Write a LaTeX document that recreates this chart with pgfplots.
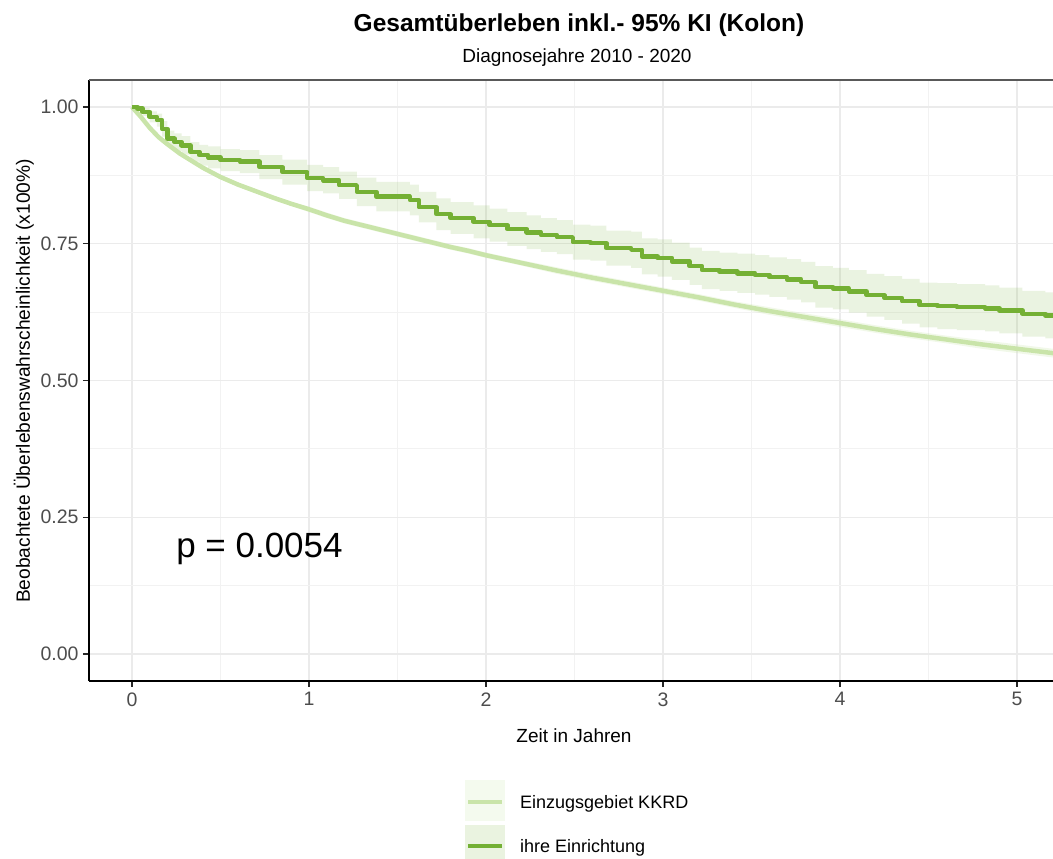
\documentclass[border=0pt]{standalone}
\usepackage{fontspec}
\setmainfont{Liberation Sans}
\usepackage{pgfplots}
\usepackage{pgfplotstable}
\pgfplotsset{compat=1.18}
\usepgfplotslibrary{fillbetween}
\definecolor{darkline}{HTML}{74B034}
\definecolor{lightline}{HTML}{C9E4A9}
\definecolor{darkband}{HTML}{EAF3E0}
\definecolor{lightband}{HTML}{F4FAEE}
\definecolor{ticktext}{HTML}{4D4D4D}

% ihre Einrichtung: x, survival, lower, upper
\pgfplotstableread{
x y lo hi
0 1.000 1.000 1.000
0.03 0.997 0.993 1.000
0.06 0.991 0.984 0.998
0.10 0.982 0.972 0.992
0.14 0.976 0.964 0.988
0.17 0.960 0.946 0.974
0.20 0.942 0.927 0.957
0.24 0.936 0.920 0.952
0.28 0.930 0.913 0.947
0.33 0.918 0.900 0.936
0.38 0.912 0.893 0.931
0.43 0.908 0.888 0.928
0.50 0.903 0.883 0.923
0.61 0.900 0.879 0.921
0.72 0.890 0.868 0.912
0.85 0.881 0.858 0.904
0.99 0.870 0.846 0.894
1.08 0.866 0.842 0.890
1.17 0.857 0.832 0.882
1.27 0.845 0.819 0.871
1.38 0.836 0.809 0.863
1.57 0.830 0.802 0.858
1.62 0.817 0.789 0.845
1.72 0.804 0.775 0.833
1.80 0.797 0.768 0.826
1.93 0.790 0.760 0.820
2.02 0.784 0.754 0.814
2.12 0.777 0.746 0.808
2.23 0.771 0.740 0.802
2.31 0.766 0.735 0.797
2.40 0.762 0.731 0.793
2.49 0.753 0.721 0.785
2.59 0.751 0.719 0.783
2.68 0.742 0.710 0.774
2.82 0.739 0.706 0.772
2.88 0.727 0.694 0.760
2.97 0.724 0.690 0.758
3.05 0.718 0.684 0.752
3.15 0.709 0.675 0.743
3.22 0.702 0.667 0.737
3.32 0.699 0.664 0.734
3.42 0.696 0.660 0.732
3.52 0.693 0.657 0.729
3.60 0.689 0.653 0.725
3.70 0.685 0.648 0.722
3.78 0.680 0.643 0.717
3.86 0.671 0.633 0.709
3.96 0.668 0.630 0.706
4.05 0.663 0.624 0.702
4.15 0.656 0.617 0.695
4.25 0.651 0.611 0.691
4.35 0.645 0.604 0.686
4.45 0.638 0.597 0.679
4.55 0.636 0.594 0.678
4.66 0.634 0.592 0.676
4.82 0.632 0.590 0.674
4.90 0.628 0.586 0.670
5.03 0.622 0.580 0.664
5.16 0.619 0.577 0.661
5.203 0.614 0.572 0.656
}\einr

% Einzugsgebiet KKRD: x, survival, lower, upper
\pgfplotstableread{
x y lo hi
0 1.000 1.000 1.000
0.05 0.982 0.980 0.984
0.10 0.962 0.959 0.965
0.15 0.945 0.942 0.948
0.20 0.932 0.929 0.935
0.27 0.915 0.911 0.919
0.33 0.903 0.899 0.907
0.40 0.889 0.885 0.893
0.50 0.872 0.868 0.876
0.60 0.858 0.854 0.862
0.70 0.846 0.842 0.850
0.80 0.834 0.830 0.838
0.90 0.823 0.819 0.827
1.00 0.813 0.808 0.818
1.10 0.802 0.797 0.807
1.20 0.792 0.787 0.797
1.30 0.784 0.779 0.789
1.40 0.776 0.771 0.781
1.50 0.768 0.763 0.773
1.60 0.760 0.755 0.765
1.70 0.752 0.747 0.757
1.80 0.744 0.739 0.749
1.90 0.737 0.732 0.742
2.00 0.729 0.724 0.734
2.20 0.715 0.710 0.720
2.40 0.701 0.695 0.707
2.60 0.688 0.682 0.694
2.80 0.676 0.670 0.682
3.00 0.664 0.658 0.670
3.20 0.652 0.646 0.658
3.40 0.639 0.633 0.645
3.60 0.627 0.620 0.634
3.80 0.616 0.609 0.623
4.00 0.605 0.598 0.612
4.20 0.594 0.587 0.601
4.40 0.584 0.577 0.591
4.60 0.575 0.568 0.582
4.80 0.566 0.558 0.574
5.00 0.558 0.550 0.566
5.203 0.550 0.542 0.558
}\kkrd

\begin{document}
\begin{tikzpicture}
\begin{axis}[
  scale only axis,
  width=964bp, height=601bp,
  xmin=-0.2429, xmax=5.203,
  ymin=-0.0494, ymax=1.0494,
  axis x line*=bottom, axis y line*=left,
  x axis line style={-, black, line width=1.5bp},
  y axis line style={-, black, line width=1.5bp},
  xtick={0,1,2,3,4,5},
  ytick={0,0.25,0.5,0.75,1},
  yticklabels={0.00,0.25,0.50,0.75,1.00},
  minor xtick={0.5,1.5,2.5,3.5,4.5},
  minor ytick={0.125,0.375,0.625,0.875},
  grid=both,
  major grid style={draw=black!8, line width=1.3bp},
  minor grid style={draw=black!5, line width=1bp},
  tick align=outside,
  major tick length=6bp,
  minor tick length=0bp,
  tick style={black!85, line width=1.3bp},
  /pgf/number format/assume math mode=true,
  ticklabel style={font=\fontsize{19.5bp}{23bp}\selectfont, text=ticktext},
  xticklabel style={yshift=-2bp},
  yticklabel style={xshift=-1bp},
]
\addplot[name path=eh, draw=none, const plot] table[x=x, y=hi] {\einr};
\addplot[name path=el, draw=none, const plot] table[x=x, y=lo] {\einr};
\addplot[name path=kh, draw=none] table[x=x, y=hi] {\kkrd};
\addplot[name path=kl, draw=none] table[x=x, y=lo] {\kkrd};
\addplot[fill=darkline, fill opacity=0.15, draw=none] fill between[of=eh and el];
\addplot[fill=lightline, fill opacity=0.25, draw=none] fill between[of=kh and kl];
\addplot[lightline, line width=4.5bp, line join=round] table[x=x, y=y] {\kkrd};
\addplot[darkline, line width=4.5bp, line join=round, const plot] table[x=x, y=y] {\einr};
\node[anchor=base west, inner sep=0pt, font=\fontsize{35bp}{40bp}\selectfont] at (axis cs:0.249,0.1755) {p = 0.0054};
\end{axis}
% top panel border
\draw[black!65, line width=1.2bp] (0,601bp) -- (964bp,601bp);
% titles
\node[anchor=base, font=\bfseries\fontsize{24.5bp}{28bp}\selectfont] at (490bp,649bp) {Gesamtüberleben inkl.- 95\% KI (Kolon)};
\node[anchor=base, font=\fontsize{19bp}{23bp}\selectfont] at (488bp,618bp) {Diagnosejahre 2010 - 2020};
% axis labels
\node[anchor=base, font=\fontsize{19bp}{23bp}\selectfont] at (485bp,-61bp) {Zeit in Jahren};
\node[anchor=base, rotate=90, font=\fontsize{19.2bp}{23bp}\selectfont] at (-59bp,300bp) {Beobachtete Überlebenswahrscheinlichkeit (x100\%)};
% legend
\fill[lightband] (376bp,-99bp) rectangle (416bp,-140bp);
\fill[darkband] (376bp,-144bp) rectangle (416bp,-185bp);
\draw[lightline, line width=4.5bp] (379bp,-121bp) -- (413bp,-121bp);
\draw[darkline, line width=4.5bp] (379bp,-165bp) -- (413bp,-165bp);
\node[anchor=base west, inner sep=0pt, font=\fontsize{18bp}{21bp}\selectfont] at (431bp,-127bp) {Einzugsgebiet KKRD};
\node[anchor=base west, inner sep=0pt, font=\fontsize{18bp}{21bp}\selectfont] at (431bp,-171bp) {ihre Einrichtung};
\pgfresetboundingbox
\path (-89bp,-178bp) rectangle (964bp,681bp);
\end{tikzpicture}
\end{document}
